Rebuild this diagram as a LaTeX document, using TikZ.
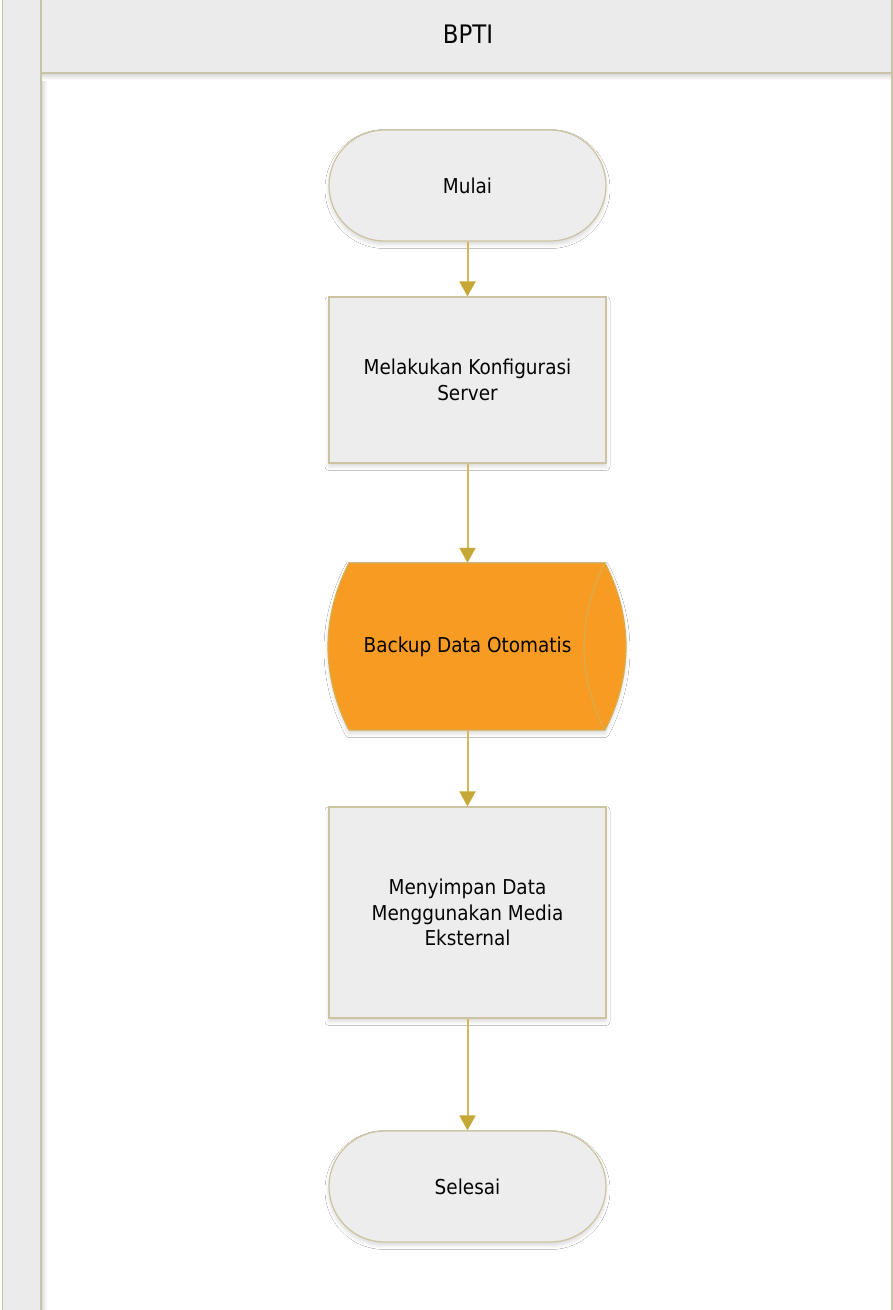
\documentclass[tikz,border=0pt]{standalone}
\usepackage{fontspec}
\setmainfont{DejaVu Sans}[FakeStretch=0.9]
\usetikzlibrary{arrows.meta,shadows.blur}
\definecolor{laneline}{RGB}{200,196,168}
\definecolor{lanefill}{RGB}{235,235,235}
\definecolor{boxfill}{RGB}{237,237,237}
\definecolor{boxline}{RGB}{204,196,160}
\definecolor{arrowc}{RGB}{214,184,88}
\definecolor{arrowhd}{RGB}{198,168,54}
\definecolor{orangefill}{RGB}{247,155,35}
\definecolor{orangeline}{RGB}{214,174,80}
\definecolor{txt}{RGB}{5,5,5}
\tikzset{
  bodytext/.style={font=\fontsize{20.5}{25.5}\selectfont, text=txt, align=center},
  sh/.style={blur shadow={shadow xshift=0pt, shadow yshift=-3.5pt, shadow blur radius=4pt, shadow opacity=15}},
  terminal/.style={bodytext, draw=boxline, fill=boxfill, line width=1.2pt, sh,
    minimum width=277pt, minimum height=111pt, rounded corners=55.5pt, inner sep=0pt},
  procbox/.style={bodytext, draw=boxline, fill=boxfill, line width=1.2pt, sh,
    minimum width=277pt, inner sep=0pt},
  flow/.style={color=arrowc, line width=2pt, -{Triangle[width=16pt,length=15pt,color=arrowhd]}},
}
\begin{document}
\begin{tikzpicture}[x=1pt,y=-1pt]
\useasboundingbox (0,0) rectangle (893,1310);
\fill[white] (0,0) rectangle (893,1310);
% left strip
\fill[lanefill] (2.5,0) rectangle (41,1310);
\shade[left color=black!16, right color=white] (41,73) rectangle (47,1310);
% header
\fill[lanefill] (41,0) rectangle (892,73);
\shade[top color=black!16, bottom color=white] (41,73) rectangle (892,80);
\draw[laneline, line width=1.5pt] (2.5,0) -- (2.5,1310);
\draw[laneline, line width=1.5pt] (41,0) -- (41,1310);
\draw[laneline, line width=1.5pt] (41,73) -- (892,73);
\draw[laneline, line width=1.5pt] (892,0) -- (892,1310);
\node[font=\fontsize{25.5}{30}\selectfont, text=txt, anchor=base] (lane) at (468,43) {BPTI};

% nodes
\node[terminal] (start) at (467.5,185.5) {Mulai};
\node[procbox, minimum height=166pt] (p1) at (467.5,380) {Melakukan Konfigurasi\\Server};

% stored data shape
\path[fill=orangefill, sh] (349,563) -- (605,563)
  .. controls (618,588) and (626,617) .. (626,646.5)
  .. controls (626,676) and (618,705) .. (605,730)
  -- (349,730)
  .. controls (336,705) and (328,676) .. (328,646.5)
  .. controls (328,617) and (336,588) .. (349,563) -- cycle;
\draw[orangeline, line width=1.2pt] (349,563) -- (605,563)
  .. controls (618,588) and (626,617) .. (626,646.5)
  .. controls (626,676) and (618,705) .. (605,730)
  -- (349,730)
  .. controls (336,705) and (328,676) .. (328,646.5)
  .. controls (328,617) and (336,588) .. (349,563) -- cycle;
\draw[orangeline, line width=1.2pt] (605,563)
  .. controls (592,588) and (584,617) .. (584,646.5)
  .. controls (584,676) and (592,705) .. (605,730);
\node[bodytext, minimum width=277pt, minimum height=167pt, inner sep=0pt] (sd) at (467.5,646.5) {Backup Data Otomatis};

\node[procbox, minimum height=211pt] (p2) at (467.5,912.5) {Menyimpan Data\\Menggunakan Media\\Eksternal};
\node[terminal] (end) at (467.5,1186.5) {Selesai};

% connectors
\draw[flow] (start.south) -- (p1.north);
\draw[flow] (p1.south) -- (sd.north);
\draw[flow] (sd.south) -- (p2.north);
\draw[flow] (p2.south) -- (end.north);
\end{tikzpicture}
\end{document}
